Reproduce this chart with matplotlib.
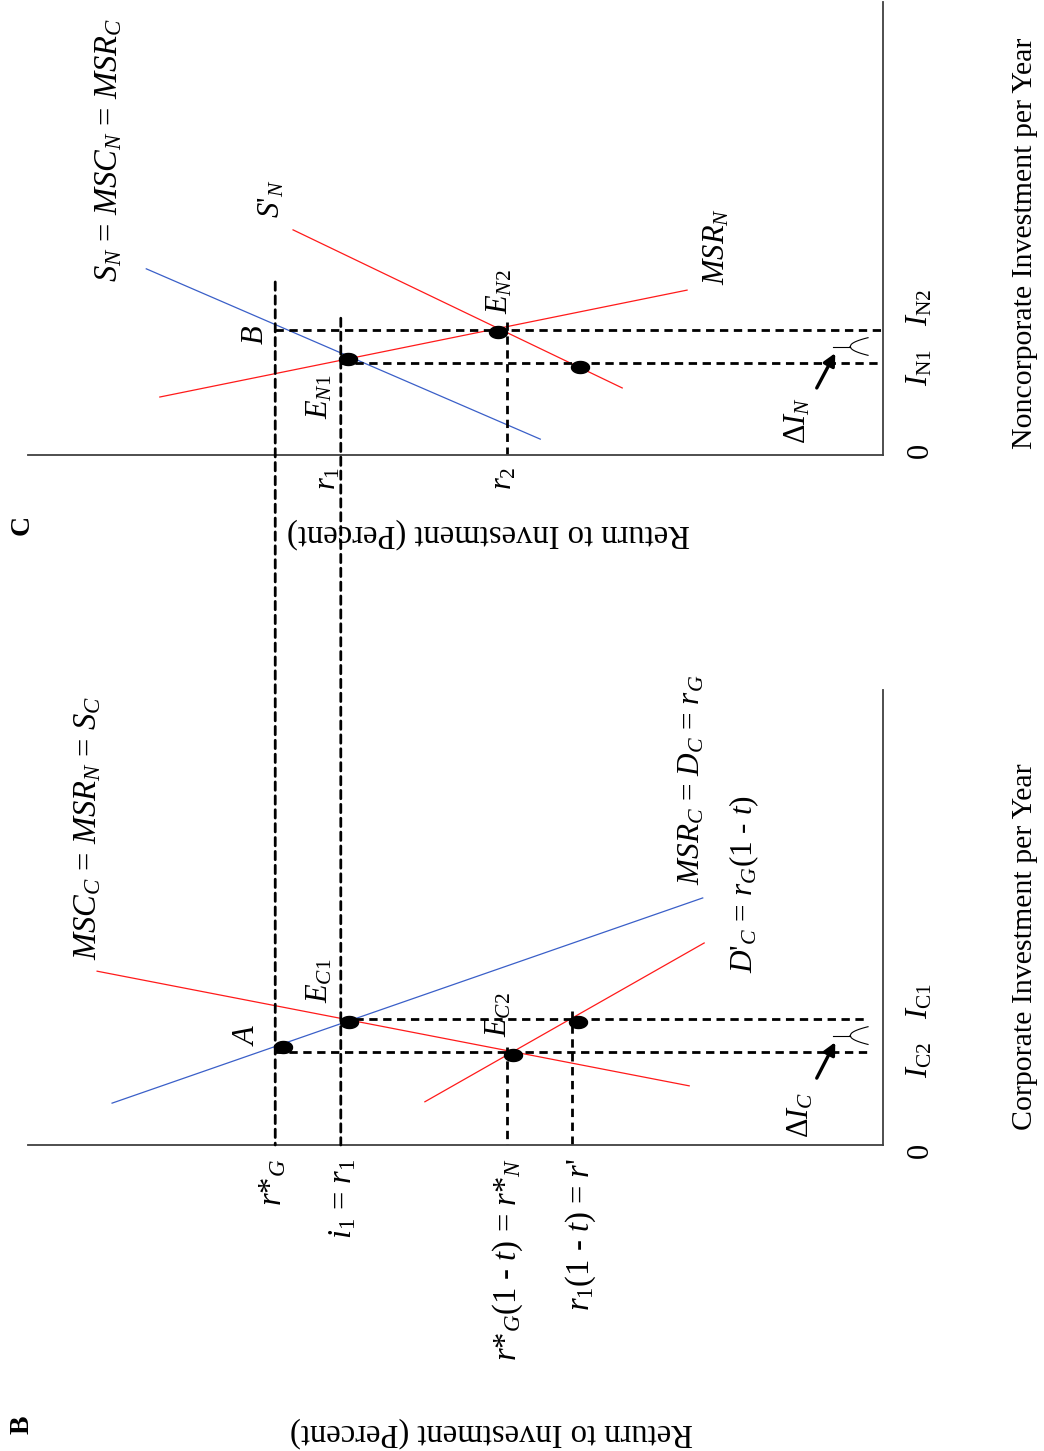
import matplotlib.pyplot as plt
import numpy as np
from matplotlib.path import Path
from matplotlib.patches import ConnectionPatch

plt.rcParams['font.family'] = ['Liberation Serif', 'DejaVu Serif']
plt.rcParams['mathtext.fontset'] = 'custom'
plt.rcParams['mathtext.rm'] = 'Liberation Serif'
plt.rcParams['mathtext.it'] = 'Liberation Serif:italic'
plt.rcParams['mathtext.bf'] = 'Liberation Serif:bold'

# axis ranges (return in percent, investment in arbitrary units)
R_MAX = 12.0
I_MAX = 10.0

# return levels, shared by both panels
r_star_G = 8.53
r_1 = 7.61
r_2 = 5.28      # also r*_N
r_prime = 4.36

# panel C : noncorporate sector
I_N1 = 2.03
I_N2 = 2.76
S_N_r, S_N_i = [10.34, 4.81], [4.11, 0.35]
MSR_N_r, MSR_N_i = [10.15, 2.75], [1.28, 3.64]
S_Np_r, S_Np_i = [8.28, 3.66], [4.97, 1.48]
dots_C_r, dots_C_i = [7.51, 5.40, 4.25], [2.12, 2.72, 1.94]

# panel B : corporate sector
I_C1 = 2.77
I_C2 = 2.04
MSC_C_r, MSC_C_i = [10.82, 2.53], [0.92, 5.43]
MSR_C_r, MSR_C_i = [11.03, 2.72], [3.82, 1.30]
D_Cp_r, D_Cp_i = [6.43, 2.51], [0.95, 4.44]
dots_B_r, dots_B_i = [8.42, 7.49, 5.19, 4.28], [2.15, 2.70, 1.98, 2.70]

# where the dashed guide lines start (they overshoot the points a little)
top_rG_C = 3.82
top_r1_C = 3.02
top_r2_C = 2.94
top_rN_B = 2.15
top_rp_B = 2.95
h_end_B = 0.22

BLUE = '#3a5fc8'
RED = '#ff1a1a'
AXC = '#404040'
dash = dict(color='black', lw=2.0, linestyle=(0, (3, 2)))

theta = np.linspace(0, 2 * np.pi, 41)
dot = Path(np.column_stack([1.5 * np.cos(theta), np.sin(theta)]))

fig = plt.figure(figsize=(10.44, 14.51), dpi=100)
W, H = 1044, 1451
axC = fig.add_axes([28 / W, (H - 455) / H, 855 / W, 453 / H])
axB = fig.add_axes([28 / W, (H - 1145) / H, 855 / W, 455 / H])

for ax in (axC, axB):
    ax.set_xlim(R_MAX, 0)
    ax.set_ylim(0, I_MAX)
    ax.set_xticks([])
    ax.set_yticks([])
    ax.patch.set_alpha(0)
    for s in ('top', 'left'):
        ax.spines[s].set_visible(False)
    for s in ('bottom', 'right'):
        ax.spines[s].set_color(AXC)
        ax.spines[s].set_linewidth(1.3)


def brace(ax, lo, hi):
    mid = (lo + hi) / 2
    ax.plot([0.70, 0.46], [mid, mid], color='black', lw=0.8)
    t = np.linspace(0, 1, 20)
    half = (hi - lo) / 2 - 0.17
    for sgn in (1, -1):
        ax.plot(0.46 - 0.25 * t, mid + sgn * half * np.sqrt(t), color='black', lw=0.8)


def lab(ax, x, y, s, size=22, rot=90, **kw):
    ax.text(x, y, s, rotation=rot, fontsize=size, ha='center', va='center',
            clip_on=False, **kw)


# ---------- panel C ----------
axC.plot(S_N_r, S_N_i, color=BLUE, lw=0.9)
axC.plot(MSR_N_r, MSR_N_i, color=RED, lw=0.9)
axC.plot(S_Np_r, S_Np_i, color=RED, lw=0.9)
axC.plot([r_star_G, 0], [I_N2, I_N2], **dash)
axC.plot([r_1, 0], [I_N1, I_N1], **dash)
axC.plot([r_2, r_2], [top_r2_C, 0], **dash)
axC.plot(dots_C_r, dots_C_i, ls='none', marker=dot, ms=13, color='black')
brace(axC, I_N1, I_N2)
axC.annotate('', xy=(0.67, 2.25), xytext=(0.93, 1.48),
             arrowprops=dict(arrowstyle='-|>', color='black', lw=2.4,
                             mutation_scale=18, shrinkA=0, shrinkB=0))

lab(axC, 10.86, 6.73, r'$S_N$ = $MSC_N$ = $MSR_C$', size=23.5)
lab(axC, 8.58, 5.65, r"$S$'$_N$")
lab(axC, 8.81, 2.65, r'$B$')
lab(axC, 7.90, 1.28, r'$E_{N1}$')
lab(axC, 5.38, 3.60, r'$E_{N2}$')
lab(axC, 2.33, 4.61, r'$MSR_N$')
lab(axC, 1.19, 0.77, r'$ΔI_N$')
lab(axC, -0.52, 0.11, '0')
lab(axC, -0.52, 1.94, r'$I_{\mathrm{N1}}$')
lab(axC, -0.52, 3.25, r'$I_{\mathrm{N2}}$')
axC.text(r_1 + 0.18, -0.26, r'$r_1$', rotation=90, fontsize=22, ha='center', va='top')
axC.text(r_2 + 0.04, -0.26, r'$r_2$', rotation=90, fontsize=22, ha='center', va='top')
lab(axC, 5.53, -1.72, 'Return to Investment (Percent)', size=23.5, rot=180)
lab(axC, -1.99, 4.68, 'Noncorporate Investment per Year', size=21.5)
lab(axC, 12.08, -1.55, 'C', size=20, fontweight='bold')

# ---------- panel B ----------
axB.plot(MSC_C_r, MSC_C_i, color=BLUE, lw=0.9)
axB.plot(MSR_C_r, MSR_C_i, color=RED, lw=0.9)
axB.plot(D_Cp_r, D_Cp_i, color=RED, lw=0.9)
axB.plot([r_1, h_end_B], [I_C1, I_C1], **dash)
axB.plot([r_star_G, h_end_B], [I_C2, I_C2], **dash)
axB.plot([r_2, r_2], [top_rN_B, 0], **dash)
axB.plot([r_prime, r_prime], [top_rp_B, 0], **dash)
axB.plot(dots_B_r, dots_B_i, ls='none', marker=dot, ms=13, color='black')
brace(axB, I_C2, I_C1)
axB.annotate('', xy=(0.67, 2.26), xytext=(0.93, 1.47),
             arrowprops=dict(arrowstyle='-|>', color='black', lw=2.4,
                             mutation_scale=18, shrinkA=0, shrinkB=0))

# dashed lines running from panel C down to the axis of panel B
for r, top in ((r_star_G, top_rG_C), (r_1, top_r1_C)):
    con = ConnectionPatch(xyA=(r, top), coordsA=axC.transData,
                          xyB=(r, 0), coordsB=axB.transData,
                          color='black', lw=2.0, linestyle=(0, (3, 2)))
    fig.add_artist(con)

lab(axB, 11.16, 6.97, r'$MSC_C$ = $MSR_N$ = $S_C$', size=23.5)
lab(axB, 8.94, 2.42, r'$A$')
lab(axB, 7.90, 3.60, r'$E_{C1}$')
lab(axB, 5.39, 2.86, r'$E_{C2}$')
lab(axB, 2.69, 8.02, r'$MSR_C$ = $D_C$ = $r_G$', size=22.5)
lab(axB, 1.95, 5.74, r"$D$'$_C$ = $r_G(1$ - $t)$", size=22.5)
lab(axB, 1.16, 0.66, r'$ΔI_C$')
lab(axB, -0.52, -0.11, '0')
lab(axB, -0.52, 1.87, r'$I_{\mathrm{C2}}$')
lab(axB, -0.52, 3.16, r'$I_{\mathrm{C1}}$')

tick_r = [r_star_G + 0.04, r_1 - 0.03, r_2 - 0.01, r_prime - 0.12]
tick_lab = [r'$r{*}_G$', r'$i_1$ = $r_1$', r'$r{*}_G(1$ - $t)$ = $r{*}_N$',
            r"$r_1(1$ - $t)$ = $r$'"]
for r, s in zip(tick_r, tick_lab):
    axB.text(r, -0.29, s, rotation=90, fontsize=23.5, ha='center', va='top')

lab(axB, 5.49, -6.31, 'Return to Investment (Percent)', size=23.5, rot=180)
lab(axB, -1.99, 4.35, 'Corporate Investment per Year', size=21.5)
lab(axB, 12.08, -6.15, 'B', size=20, fontweight='bold')

fig.savefig('out.png', dpi=100)
